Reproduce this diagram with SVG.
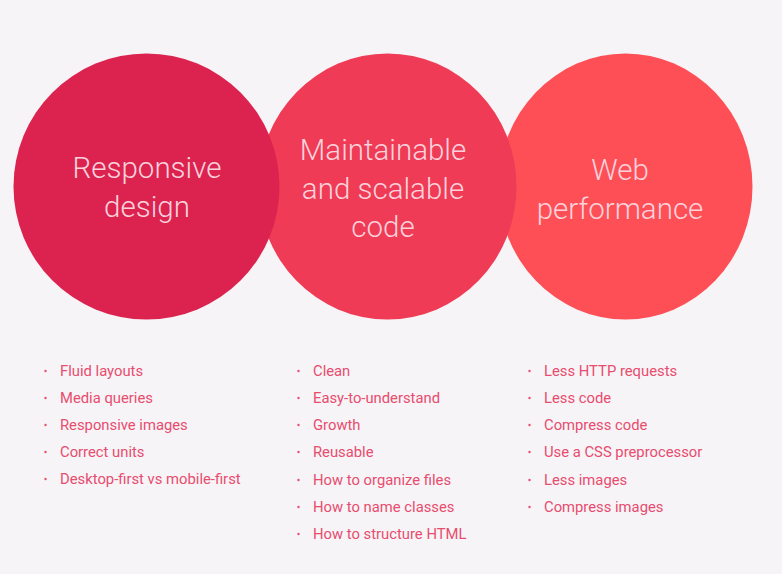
<svg xmlns="http://www.w3.org/2000/svg" width="782" height="574" viewBox="0 0 782 574">
  <style>
    .title { font-family: Roboto, "Liberation Sans", sans-serif; font-weight: 300; font-size: 29.5px; fill: #fbd2dc; text-anchor: middle; }
    .item { font-family: Roboto, "Liberation Sans", sans-serif; font-size: 14.8px; fill: #e84c6e; }
    .dot { fill: #e84c6e; }
  </style>
  <rect width="782" height="574" fill="#f6f4f7"/>

  <!-- circles: painted right to left so the left one sits on top -->
  <g id="web-performance">
    <ellipse cx="625.5" cy="186.5" rx="127" ry="133" fill="#fe4f56"/>
    <text class="title" x="620" y="180">Web</text>
    <text class="title" x="620" y="219">performance</text>
  </g>
  <g id="maintainable-code">
    <ellipse cx="387.5" cy="186.5" rx="129" ry="133" fill="#ef3b55"/>
    <text class="title" x="383" y="160">Maintainable</text>
    <text class="title" x="383" y="199">and scalable</text>
    <text class="title" x="383" y="237">code</text>
  </g>
  <g id="responsive-design">
    <ellipse cx="146.5" cy="186.5" rx="133" ry="133" fill="#dc2350"/>
    <text class="title" x="147" y="178">Responsive</text>
    <text class="title" x="147" y="217">design</text>
  </g>

  <!-- bullet lists -->
  <g id="list-responsive">
    <circle class="dot" cx="45.5" cy="371" r="1.2"/><text class="item" x="60" y="376">Fluid layouts</text>
    <circle class="dot" cx="45.5" cy="398" r="1.2"/><text class="item" x="60" y="403">Media queries</text>
    <circle class="dot" cx="45.5" cy="425" r="1.2"/><text class="item" x="60" y="430">Responsive images</text>
    <circle class="dot" cx="45.5" cy="452" r="1.2"/><text class="item" x="60" y="457">Correct units</text>
    <circle class="dot" cx="45.5" cy="479" r="1.2"/><text class="item" x="60" y="484">Desktop-first vs mobile-first</text>
  </g>
  <g id="list-maintainable">
    <circle class="dot" cx="298.5" cy="371" r="1.2"/><text class="item" x="313" y="376">Clean</text>
    <circle class="dot" cx="298.5" cy="398" r="1.2"/><text class="item" x="313" y="403">Easy-to-understand</text>
    <circle class="dot" cx="298.5" cy="425" r="1.2"/><text class="item" x="313" y="430">Growth</text>
    <circle class="dot" cx="298.5" cy="452" r="1.2"/><text class="item" x="313" y="457">Reusable</text>
    <circle class="dot" cx="298.5" cy="480" r="1.2"/><text class="item" x="313" y="485">How to organize files</text>
    <circle class="dot" cx="298.5" cy="507" r="1.2"/><text class="item" x="313" y="512">How to name classes</text>
    <circle class="dot" cx="298.5" cy="534" r="1.2"/><text class="item" x="313" y="539">How to structure HTML</text>
  </g>
  <g id="list-performance">
    <circle class="dot" cx="529.5" cy="371" r="1.2"/><text class="item" x="544" y="376">Less HTTP requests</text>
    <circle class="dot" cx="529.5" cy="398" r="1.2"/><text class="item" x="544" y="403">Less code</text>
    <circle class="dot" cx="529.5" cy="425" r="1.2"/><text class="item" x="544" y="430">Compress code</text>
    <circle class="dot" cx="529.5" cy="452" r="1.2"/><text class="item" x="544" y="457">Use a CSS preprocessor</text>
    <circle class="dot" cx="529.5" cy="480" r="1.2"/><text class="item" x="544" y="485">Less images</text>
    <circle class="dot" cx="529.5" cy="507" r="1.2"/><text class="item" x="544" y="512">Compress images</text>
  </g>
</svg>
